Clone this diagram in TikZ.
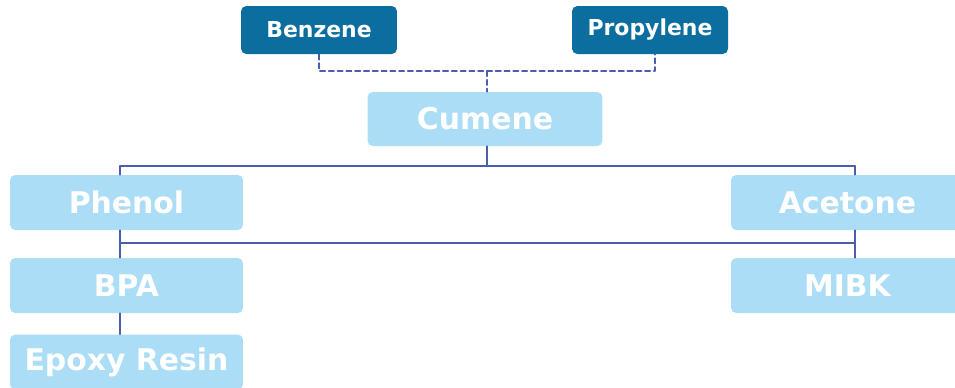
\documentclass[tikz,border=0pt]{standalone}
\usepackage{fontspec}
\setmainfont{DejaVu Sans}
\usepackage{tikz}
\usetikzlibrary{arrows}
\definecolor{darkbox}{HTML}{0B6E9E}
\definecolor{lightbox}{HTML}{ABDDF6}
\definecolor{linkcol}{HTML}{4D5DAE}

\begin{document}
\begin{tikzpicture}[line cap=round,line join=round,x=0.02cm,y=-0.02cm,
    feed/.style={fill=darkbox,rounded corners=3pt,minimum width=3.12cm,minimum height=0.96cm,
      text=white,font=\fontsize{12.5}{14}\selectfont\bfseries},
    prod/.style={fill=lightbox,rounded corners=3pt,minimum width=4.66cm,minimum height=1.1cm,
      text=white,font=\fontsize{17}{19}\selectfont\bfseries},
    link/.style={color=linkcol,line width=1pt}]
      \useasboundingbox (0,0) rectangle (955,387);
      \clip (0,0) rectangle (955,387);
      \node[feed] (benzene) at (319,30) {Benzene};
      \node[feed] (propylene) at (650,30) {Propylene};
      \node[prod,minimum width=4.7cm,minimum height=1.08cm] (cumene) at (485,119) {Cumene};
      \node[prod] (phenol) at (126.5,202.5) {Phenol};
      \node[prod] (acetone) at (847.5,202.5) {Acetone};
      \node[prod] (bpa) at (126.5,285.5) {BPA};
      \node[prod] (mibk) at (847.5,285.5) {MIBK};
      \node[prod] (epoxy) at (126.5,362) {Epoxy Resin};
      % feeds to cumene
      \coordinate (fb) at (319,71);
      \coordinate (fp) at (655,71);
      \coordinate (fc) at (487,71);
      \draw[link,dashed,dash pattern=on 3pt off 2pt] (benzene.south -| fb) -- (fb) -- (fp) -- (propylene.south -| fp);
      \draw[link,dashed,dash pattern=on 3pt off 2pt] (fc) -- (cumene.north -| fc);
      % cumene split
      \coordinate (cj) at (487,166);
      \coordinate (pj) at (120,166);
      \coordinate (aj) at (855,166);
      \draw[link] (cumene.south -| cj) -- (cj);
      \draw[link] (pj) -- (aj);
      \draw[link] (pj) -- (phenol.north -| pj);
      \draw[link] (aj) -- (acetone.north -| aj);
      % second level
      \coordinate (pl) at (120,243);
      \coordinate (al) at (855,243);
      \draw[link] (pl) -- (al);
      \draw[link] (phenol.south -| pl) -- (bpa.north -| pl);
      \draw[link] (acetone.south -| al) -- (mibk.north -| al);
      \draw[link] (bpa.south -| pl) -- (epoxy.north -| pl);
\end{tikzpicture}
\end{document}
